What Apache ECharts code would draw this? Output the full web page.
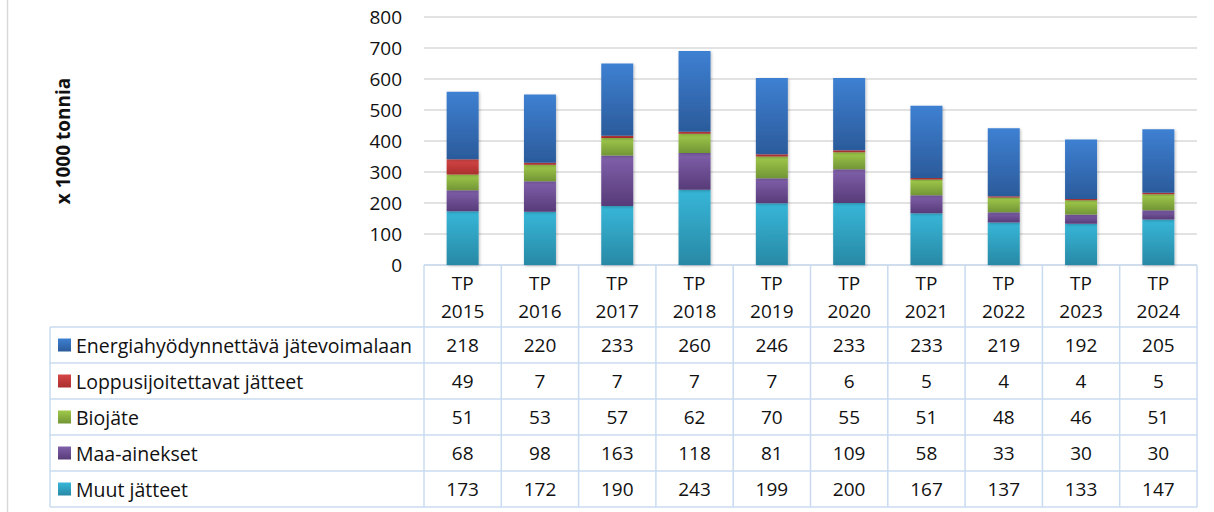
<!DOCTYPE html>
<html>
<head>
<meta charset="utf-8">
<script src="https://cdn.jsdelivr.net/npm/echarts@6/dist/echarts.min.js"></script>
<style>
  html, body { margin: 0; padding: 0; background: #fff; }
  #chart { width: 1214px; height: 512px; }
</style>
</head>
<body>
<div id="chart"></div>
<script>
// tietoja
const years = ['TP\n2015', 'TP\n2016', 'TP\n2017', 'TP\n2018', 'TP\n2019', 'TP\n2020', 'TP\n2021', 'TP\n2022', 'TP\n2023', 'TP\n2024']
const muut = [173, 172, 190, 243, 199, 200, 167, 137, 133, 147]
const maa = [68, 98, 163, 118, 81, 109, 58, 33, 30, 30]
const bio = [51, 53, 57, 62, 70, 55, 51, 48, 46, 51]
const loppu = [49, 7, 7, 7, 7, 6, 5, 4, 4, 5]
const energia = [218, 220, 233, 260, 246, 233, 233, 219, 192, 205]
const yTicks = [0, 100, 200, 300, 400, 500, 600, 700, 800]

// pinon järjestys alhaalta ylös
const stackList = [
  { name: 'Muut jätteet', data: muut, c: ['#37b6d8', '#2889a5'] },
  { name: 'Maa-ainekset', data: maa, c: ['#8060ab', '#573b78'] },
  { name: 'Biojäte', data: bio, c: ['#a0ca4a', '#729536'] },
  { name: 'Loppusijoitettavat jätteet', data: loppu, c: ['#d64646', '#aa2e2e'] },
  { name: 'Energiahyödynnettävä jätevoimalaan', data: energia, c: ['#3e80d2', '#2b5b9b'] }
]

const font = '"Open Sans", sans-serif'
const fs = 19
const gridLeft = 424, gridRight = 17, gridTop = 17, gridBottom = 247
const lineColor = '#c9dbf1'

function grad(c) {
  return new echarts.graphic.LinearGradient(0, 0, 0, 1, [
    { offset: 0, color: c[0] },
    { offset: 1, color: c[1] }
  ])
}

let option = {
  animation: false,
  backgroundColor: '#fff',
  textStyle: { fontFamily: font },
  grid: { left: gridLeft, right: gridRight, top: gridTop, bottom: gridBottom },
  xAxis: {
    type: 'category',
    data: years,
    axisLine: { show: false },
    axisTick: { show: false },
    axisLabel: { fontSize: fs, color: '#111', lineHeight: 28, margin: 4, fontFamily: font }
  },
  yAxis: {
    type: 'value',
    min: yTicks[0],
    max: yTicks[yTicks.length - 1],
    interval: 100,
    name: 'x 1000 tonnia',
    nameLocation: 'middle',
    nameGap: 352,
    nameRotate: 90,
    nameTextStyle: { fontSize: 19, fontWeight: 'bold', color: '#111', fontFamily: font },
    axisLabel: { fontSize: fs, color: '#111', margin: 22, fontFamily: font },
    splitLine: { lineStyle: { color: '#d9d9d9', width: 1.5 } }
  },
  series: stackList.map(s => ({
    name: s.name,
    type: 'bar',
    stack: 'all',
    barWidth: 32,
    data: s.data,
    itemStyle: {
      color: grad(s.c),
      shadowBlur: 3,
      shadowOffsetX: 1,
      shadowOffsetY: 1,
      shadowColor: 'rgba(0,0,0,0.25)'
    }
  }))
}

let myChart = echarts.init(document.getElementById('chart'), null, { renderer: 'svg' })
myChart.setOption(option)

// datataulukko
let rows = stackList.slice().reverse()
let colW = (1214 - gridLeft - gridRight) / years.length
let right = 1214 - gridRight
let headTop = 512 - gridBottom
let rowTop = 327
let rowH = 36
let tableLeft = 50
let g = []

// pystyviivat
for (let i = 0; i <= years.length; i++) {
  let x = gridLeft + i * colW
  g.push({ type: 'line', shape: { x1: x, y1: headTop, x2: x, y2: rowTop + rowH * rows.length }, style: { stroke: lineColor, lineWidth: 1.5 } })
}
g.push({ type: 'line', shape: { x1: tableLeft, y1: rowTop, x2: tableLeft, y2: rowTop + rowH * rows.length }, style: { stroke: lineColor, lineWidth: 1.5 } })
// vaakaviivat
g.push({ type: 'line', shape: { x1: gridLeft, y1: headTop, x2: right, y2: headTop }, style: { stroke: lineColor, lineWidth: 1.5 } })
for (let r = 0; r <= rows.length; r++) {
  let y = rowTop + r * rowH
  g.push({ type: 'line', shape: { x1: tableLeft, y1: y, x2: right, y2: y }, style: { stroke: lineColor, lineWidth: 1.5 } })
}

rows.forEach((s, r) => {
  let cy = rowTop + r * rowH + rowH / 2
  g.push({ type: 'rect', shape: { x: 58, y: cy - 6.5, width: 13, height: 13 }, style: { fill: grad(s.c) } })
  g.push({ type: 'text', x: 76, y: cy, style: { text: s.name, font: '19.5px ' + font, fill: '#111', verticalAlign: 'middle' } })
  s.data.forEach((v, i) => {
    let cx = myChart.convertToPixel({ xAxisIndex: 0 }, i)
    g.push({ type: 'text', x: cx, y: cy, style: { text: String(v), font: fs + 'px ' + font, fill: '#111', align: 'center', verticalAlign: 'middle' } })
  })
})

// vasen reunaviiva
g.push({ type: 'line', shape: { x1: 7.5, y1: 0, x2: 7.5, y2: 512 }, style: { stroke: '#d9d9d9', lineWidth: 1.5 } })

myChart.setOption({ graphic: g })
</script>
</body>
</html>
